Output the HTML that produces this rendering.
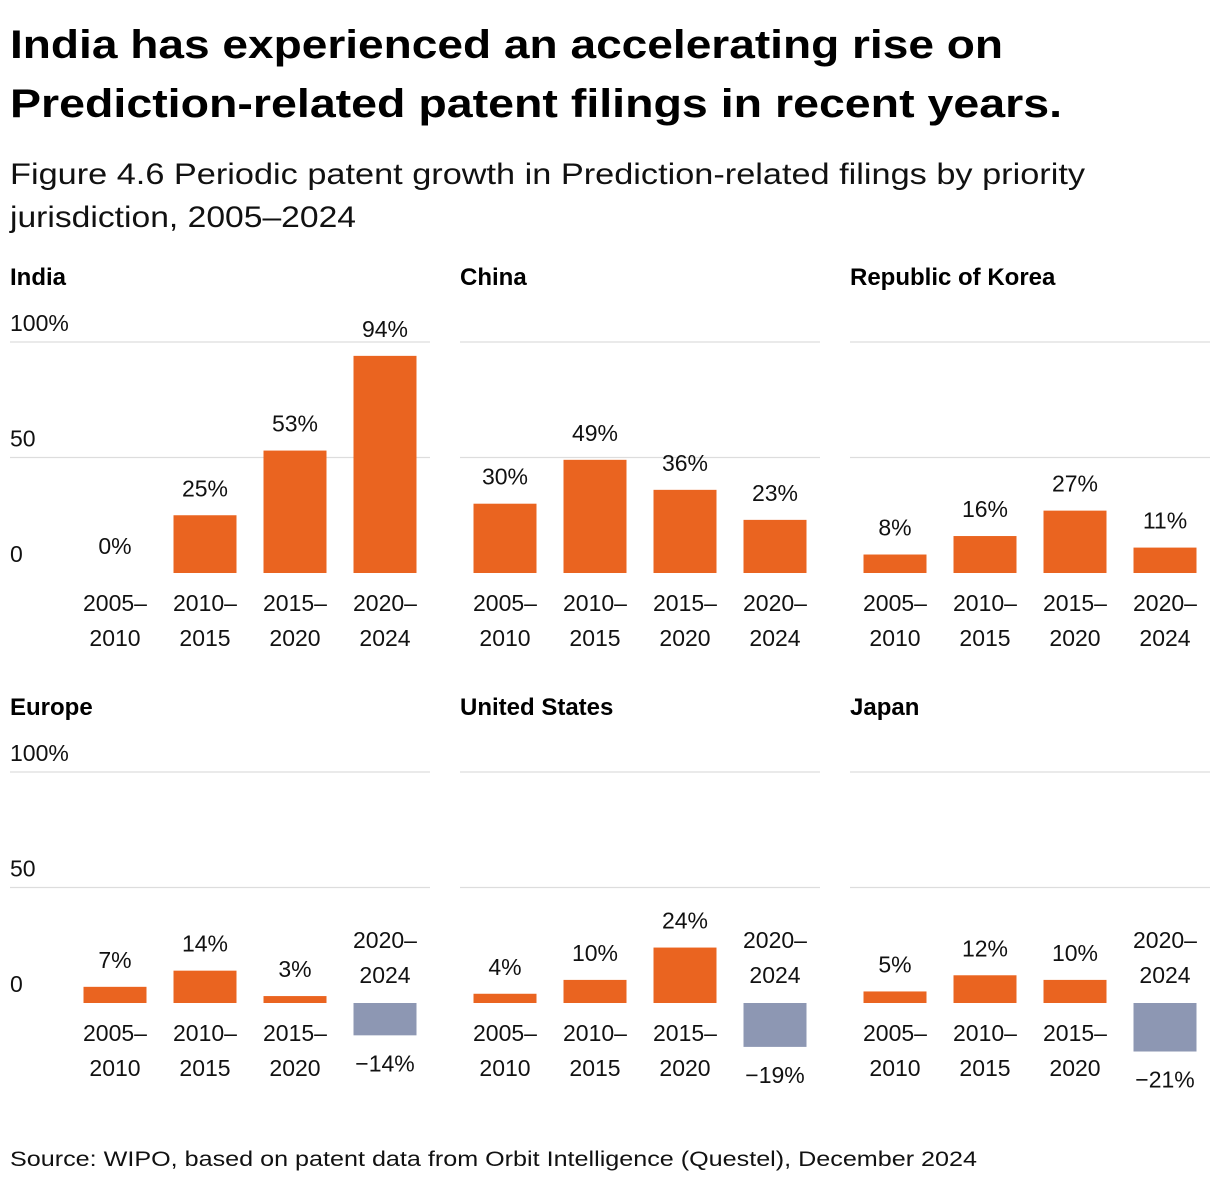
<!DOCTYPE html>
<html><head><meta charset="utf-8">
<style>
body{margin:0;background:#fff;font-family:"Liberation Sans","Noto Sans CJK JP",sans-serif;}
svg text{font-family:"Liberation Sans","Noto Sans CJK JP",sans-serif;}
</style></head>
<body>
<svg id="chart" width="1220" height="1184" xmlns="http://www.w3.org/2000/svg">
<text x="10" y="58" font-size="40" font-weight="bold" fill="#000" textLength="993" lengthAdjust="spacingAndGlyphs">India has experienced an accelerating rise on</text>
<text x="10" y="117" font-size="40" font-weight="bold" fill="#000" textLength="1052" lengthAdjust="spacingAndGlyphs">Prediction-related patent filings in recent years.</text>
<text x="10" y="184" font-size="30" fill="#111" textLength="1075" lengthAdjust="spacingAndGlyphs">Figure 4.6 Periodic patent growth in Prediction-related filings by priority</text>
<text x="10" y="227" font-size="30" fill="#111" textLength="346" lengthAdjust="spacingAndGlyphs">jurisdiction, 2005–2024</text>
<text x="10" y="1166" font-size="21" fill="#111" textLength="967" lengthAdjust="spacingAndGlyphs">Source: WIPO, based on patent data from Orbit Intelligence (Questel), December 2024</text>
<g id="panels"></g>
</svg>
<script>
const regions = ["India","China","Republic of Korea","Europe","United States","Japan"];
const periods = [["2005–","2010"],["2010–","2015"],["2015–","2020"],["2020–","2024"]];
const indiaValues = [0,25,53,94];
const chinaValues = [30,49,36,23];
const koreaValues = [8,16,27,11];
const europeValues = [7,14,3,-14];
const usValues = [4,10,24,-19];
const japanValues = [5,12,10,-21];
const seriesValues = [indiaValues,chinaValues,koreaValues,europeValues,usValues,japanValues];
const yTicks = [0,50,100];
const yTickLabels = ["0","50","100%"];

const NS="http://www.w3.org/2000/svg";
const g=document.getElementById('panels');
function el(tag,attrs,parent){const e=document.createElementNS(NS,tag);for(const k in attrs)e.setAttribute(k,attrs[k]);(parent||g).appendChild(e);return e;}
const colX=[10,460,850], colW=[420,360,360], rowZero=[573,1003], rowTitle=[285,715];
const pxPerUnit=2.31;
regions.forEach((name,idx)=>{
  const col=idx%3,row=Math.floor(idx/3);
  const vals=seriesValues[idx];
  const zero=rowZero[row];
  const y=v=>zero-v*pxPerUnit;
  const pg=el('g',{});
  
  
  const t=el('text',{x:colX[col],y:rowTitle[row],'font-size':24,'font-weight':'bold',fill:'#000'},pg);t.textContent=name;
  
  
  yTicks.forEach((tv,i)=>{
    if(tv>0){const l=el('line',{x1:colX[col],x2:colX[col]+colW[col],y1:y(tv),y2:y(tv),stroke:'#ddd','stroke-width':1.2},pg);
      
      }
    if(col===0){const tl=el('text',{x:10,y:y(tv)-11,'font-size':23,fill:'#111'},pg);tl.textContent=yTickLabels[i];
      
      }
  });
  const plotLeft=col===0?70:colX[col];
  vals.forEach((v,i)=>{
    const cx=plotLeft+45+90*i, w=63;
    const top=Math.min(y(v),zero), h=Math.abs(y(v)-zero);
    const r=el('rect',{x:cx-w/2,y:top,width:w,height:h,fill:v>=0?'#EA6420':'#8D97B3'},pg);
    
    
    const vl=el('text',{x:cx,'text-anchor':'middle','font-size':23,fill:'#111'},pg);
    vl.setAttribute('y',v>=0?y(v)-19:y(v)+36);
    vl.textContent=(v<0?'−'+Math.abs(v):v)+'%';
    
    
    periods[i].forEach((ln,j)=>{
      const c=el('text',{x:cx,'text-anchor':'middle','font-size':23,fill:'#111'},pg);
      c.setAttribute('y',v>=0?zero+38+j*35:zero-55+j*35);
      c.textContent=ln;
      
      
    });
  });
});
</script>
</body></html>
